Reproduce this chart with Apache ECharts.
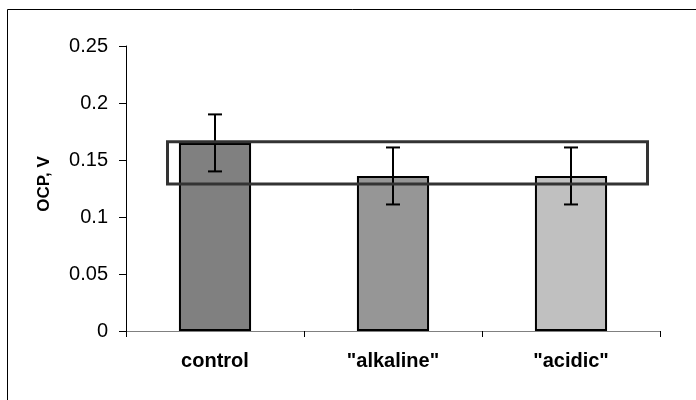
<!DOCTYPE html>
<html>
<head>
<meta charset="utf-8">
<script src="https://cdn.jsdelivr.net/npm/echarts@6/dist/echarts.min.js"></script>
<style>html,body{margin:0;padding:0;background:#fff;}#c{width:696px;height:400px;}</style>
</head>
<body>
<div id="c"></div>
<script>
var categories = ['control', '"alkaline"', '"acidic"'];
var values = [0.165, 0.136, 0.136];
var errors = [0.025, 0.025, 0.025];
var barColors = ['#808080', '#969696', '#c0c0c0'];
var yTicks = [0, 0.05, 0.1, 0.15, 0.2, 0.25];
var boxRange = [0.129, 0.166];

var chart = echarts.init(document.getElementById('c'), null, {renderer: 'canvas'});
var font = '"Liberation Sans", Arial, sans-serif';

var errData = values.map(function (v, i) { return [i, v - errors[i], v + errors[i]]; });

chart.setOption({
  animation: false,
  backgroundColor: '#fff',
  grid: {left: 126, right: 36, top: 46, bottom: 69, containLabel: false},
  xAxis: {
    type: 'category',
    data: categories,
    boundaryGap: true,
    axisLine: {lineStyle: {color: '#808080', width: 1}},
    axisTick: {show: true, length: 6, alignWithLabel: false, lineStyle: {color: '#000'}},
    axisLabel: {fontFamily: font, fontSize: 20, fontWeight: 'bold', color: '#000', margin: 20},
    splitLine: {show: false}
  },
  yAxis: {
    type: 'value',
    min: yTicks[0],
    max: yTicks[yTicks.length - 1],
    interval: 0.05,
    name: 'OCP, V',
    nameLocation: 'middle',
    nameGap: 73,
    nameRotate: 90,
    nameTextStyle: {fontFamily: font, fontSize: 17, fontWeight: 'bold', color: '#000', padding: [0, 0, 0, 9]},
    axisLine: {show: true, lineStyle: {color: '#000', width: 1}},
    axisTick: {show: true, length: 7, lineStyle: {color: '#000'}},
    axisLabel: {fontFamily: font, fontSize: 20, color: '#000', margin: 18,
      formatter: function (v) { return String(+v.toFixed(2)); }},
    splitLine: {show: false}
  },
  series: [
    {
      type: 'bar',
      barWidth: '40.5%',
      data: values.map(function (v, i) {
        return {value: v, itemStyle: {color: barColors[i]}};
      }),
      itemStyle: {borderColor: '#000', borderWidth: 2},
      z: 2
    },
    {
      type: 'custom',
      z: 5,
      data: errData,
      renderItem: function (params, api) {
        var x = api.coord([api.value(0), 0])[0];
        var lo = api.coord([api.value(0), api.value(1)])[1];
        var hi = api.coord([api.value(0), api.value(2)])[1];
        var hw = 7;
        var st = {stroke: '#000', lineWidth: 2};
        return {
          type: 'group',
          children: [
            {type: 'line', shape: {x1: x, y1: hi, x2: x, y2: lo}, style: st},
            {type: 'line', shape: {x1: x - hw, y1: hi, x2: x + hw, y2: hi}, style: st},
            {type: 'line', shape: {x1: x - hw, y1: lo, x2: x + hw, y2: lo}, style: st}
          ]
        };
      }
    }
  ]
});

var yTop = chart.convertToPixel({yAxisIndex: 0}, boxRange[1]);
var yBot = chart.convertToPixel({yAxisIndex: 0}, boxRange[0]);
chart.setOption({
  graphic: [
    {type: 'rect', z: 100, shape: {x: 7.5, y: 9.5, width: 700, height: 400},
     style: {fill: null, stroke: '#000', lineWidth: 1}},
    {type: 'rect', z: 100, shape: {x: 167.5, y: yTop, width: 480, height: yBot - yTop},
     style: {fill: null, stroke: '#333', lineWidth: 3}}
  ]
});
</script>
</body>
</html>
